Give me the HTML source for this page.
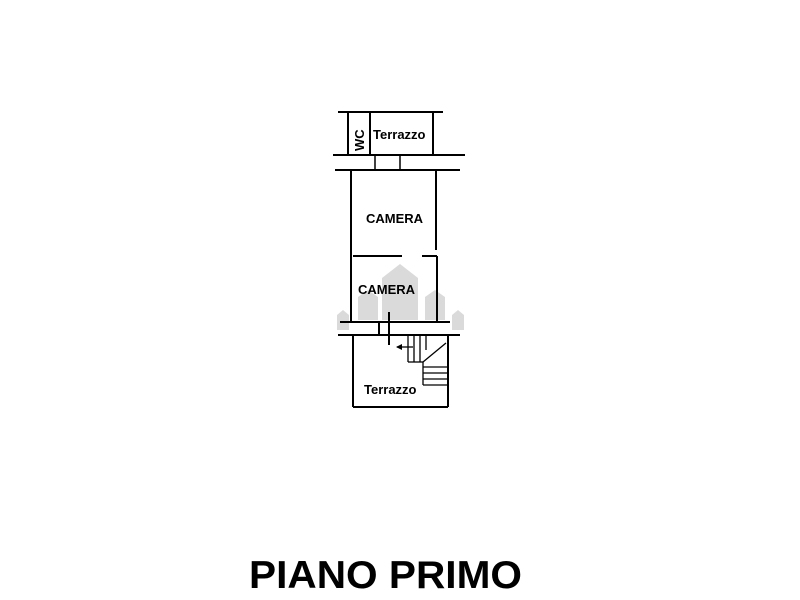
<!DOCTYPE html>
<html><head><style>body{margin:0;background:#fff}svg{display:block}</style></head><body>
<svg width="800" height="600" viewBox="0 0 800 600" xmlns="http://www.w3.org/2000/svg">
<g fill="#d4d4d4" opacity="0.85">
<polygon points="382,320 382,278 400,264 418,278 418,320"/>
<polygon points="358,320 358,297 368,290 378,297 378,320"/>
<polygon points="425,320 425,297 435,290 445,297 445,320"/>
<polygon points="337,330 337,315 343,310 349,315 349,330"/>
<polygon points="452,330 452,315 458,310 464,315 464,330"/>
</g>
<g stroke="#000" stroke-width="2" fill="none">
<line x1="338" y1="112" x2="443" y2="112"/>
<line x1="348" y1="112" x2="348" y2="155"/>
<line x1="370" y1="112" x2="370" y2="155"/>
<line x1="433" y1="112" x2="433" y2="155"/>
<line x1="333" y1="155" x2="465" y2="155"/>
<rect x="375" y="155" width="25" height="15" stroke-width="1.5"/>
<line x1="335" y1="170" x2="460" y2="170"/>
<line x1="351" y1="170" x2="351" y2="322"/>
<line x1="436" y1="170" x2="436" y2="250"/>
<line x1="353" y1="256" x2="402" y2="256"/>
<line x1="422" y1="256" x2="437" y2="256"/>
<line x1="437" y1="256" x2="437" y2="322"/>
<line x1="340" y1="322" x2="450" y2="322"/>
<line x1="338" y1="335" x2="460" y2="335"/>
<line x1="379" y1="322" x2="379" y2="335"/>
<line x1="389" y1="312" x2="389" y2="345"/>
<line x1="353" y1="335" x2="353" y2="407"/>
<line x1="353" y1="407" x2="448" y2="407"/>
<line x1="448" y1="335" x2="448" y2="407"/>
</g>
<g stroke="#000" stroke-width="1.3" fill="none">
<line x1="408" y1="335" x2="408" y2="362"/>
<line x1="408" y1="362" x2="423" y2="362"/>
<line x1="423" y1="362" x2="423" y2="385"/>
<line x1="423" y1="385" x2="448" y2="385"/>
<line x1="414" y1="335" x2="414" y2="362"/>
<line x1="420" y1="335" x2="420" y2="362"/>
<line x1="426" y1="335" x2="426" y2="350"/>
<line x1="423" y1="362" x2="446" y2="343"/>
<line x1="423" y1="367" x2="448" y2="367"/>
<line x1="423" y1="373" x2="448" y2="373"/>
<line x1="423" y1="379" x2="448" y2="379"/>
<line x1="397" y1="347" x2="413" y2="347"/>
</g>
<polygon points="396,347 402,344 402,350" fill="#000"/>
<g font-family="Liberation Sans, sans-serif" font-weight="bold" fill="#000">
<text x="373" y="139" font-size="13">Terrazzo</text>
<text x="364" y="151" font-size="13" transform="rotate(-90 364 151)">WC</text>
<text x="366" y="223" font-size="13">CAMERA</text>
<text x="358" y="294" font-size="13">CAMERA</text>
<text x="364" y="394" font-size="13">Terrazzo</text>
<text x="249" y="588" font-size="39" textLength="273" lengthAdjust="spacingAndGlyphs">PIANO PRIMO</text>
</g>
</svg>
</body></html>
